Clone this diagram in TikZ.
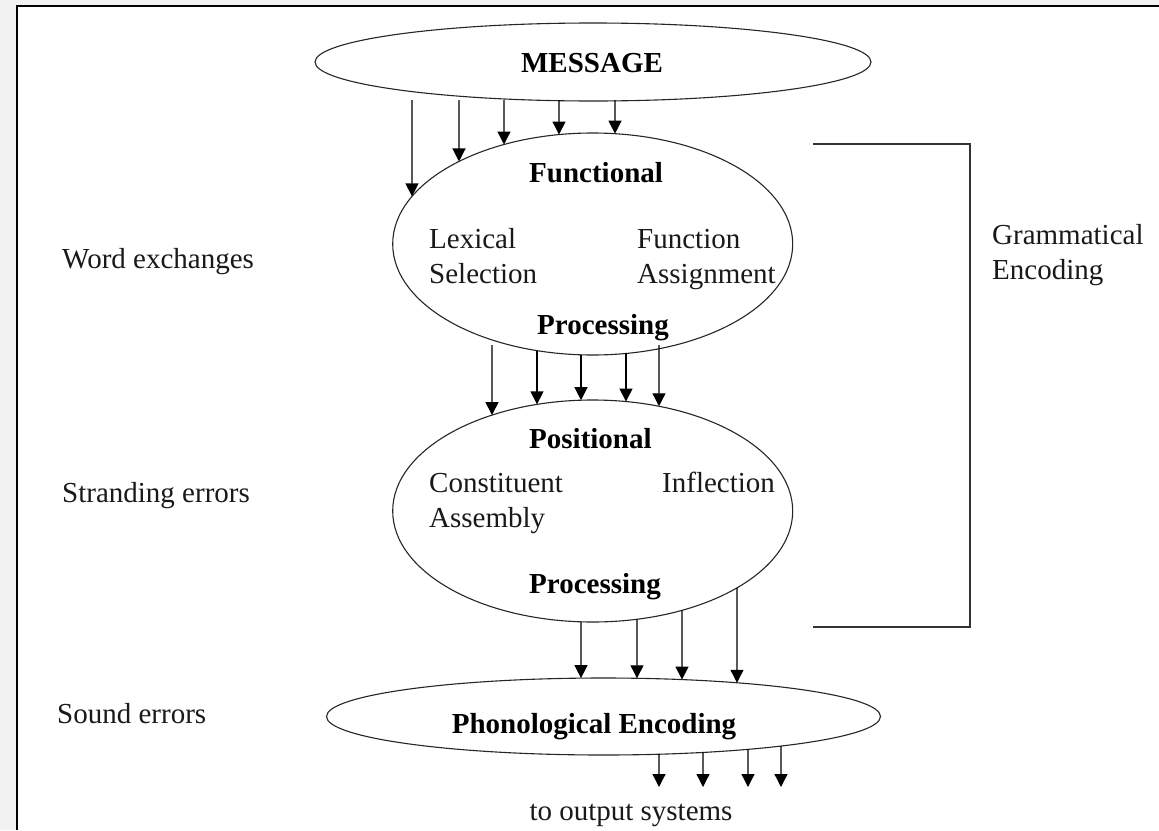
\documentclass[tikz,border=0pt]{standalone}
\usepackage{fontspec}
\setmainfont{Liberation Serif}
\usetikzlibrary{shapes.geometric,arrows.meta,intersections}
\newcommand\arrbetween[3]{%
  \path[name path=vtmp] (#1,0) -- (#1,830);
  \path[name intersections={of=vtmp and #2, sort by=vtmp, by={s1,s2}}];
  \path[name intersections={of=vtmp and #3, sort by=vtmp, by={t1,t2}}];
  \draw[arr] (s2) -- (t1);
}
\newcommand\arrfix[3]{%
  \coordinate (sf) at (#1,#2);
  \path[name path=vtmp] (sf) -- (#1,830);
  \path[name intersections={of=vtmp and #3, sort by=vtmp, by={t1}}];
  \draw[arr] (sf) -- (t1);
}
\newcommand\arrout[3]{%
  \path[name path=vtmp] (#1,0) -- (#1,830);
  \path[name intersections={of=vtmp and #2, sort by=vtmp, by={s1,s2}}];
  \coordinate (te) at (#1,#3);
  \draw[arr] (s2) -- (te);
}
\begin{document}
\begin{tikzpicture}[x=1pt,y=-1pt,
  ell/.style={draw=black!85, line width=1.1pt, ellipse, inner sep=0pt},
  arr/.style={line width=1.3pt, -{Triangle[length=13pt,width=13pt]}},
  lbl/.style={font=\fontsize{29}{35}\selectfont, inner sep=0pt, anchor=base west, text=black!90},
  lblb/.style={font=\fontsize{29}{35}\selectfont\bfseries, inner sep=0pt, anchor=base west},
  lblc/.style={font=\fontsize{29}{35}\selectfont\bfseries, inner sep=0pt, anchor=base},
  frame/.style={line width=2pt},
  brace/.style={line width=1.3pt, draw=black!80},
]
\fill[black!5] (0,0) rectangle (1159,830);
\fill[white] (17,6) rectangle (1159,830);
\useasboundingbox (0,0) rectangle (1159,830);
\draw[frame] (17,830) -- (17,6) -- (1159,6);

% ellipses
\node[ell, minimum width=556pt, minimum height=78pt, name path=msg] (msg) at (593,62) {};
\node[ell, minimum width=400pt, minimum height=222pt, name path=fun] (fun) at (592.7,244) {};
\node[ell, minimum width=400pt, minimum height=222pt, name path=pos] (pos) at (592.7,511) {};
\node[ell, minimum width=554pt, minimum height=77pt, name path=pho] (pho) at (603.5,716.5) {};

% texts inside
\node[lblc] (tmsg) at (592,72) {MESSAGE};
\node[lblb] (tfun) at (529,182) {Functional};
\node[lbl] (tlex) at (429,248) {Lexical};
\node[lbl] (tsel) at (429,283) {Selection};
\node[lbl] (tfn) at (637,248) {Function};
\node[lbl] (tasg) at (637,283) {Assignment};
\node[lblb] (tproc1) at (537,334) {Processing};
\node[lblb] (tpos) at (529,448) {Positional};
\node[lbl] (tcon) at (429,492) {Constituent};
\node[lbl] (tass) at (429,527) {Assembly};
\node[lbl] (tinf) at (662,492) {Inflection};
\node[lblb] (tproc2) at (529,593) {Processing};
\node[lblc] (tpho) at (594,733) {Phonological Encoding};
\node[lbl, anchor=base] (tout) at (631,820) {to output systems};

% side labels
\node[lbl] (wex) at (62,268) {Word exchanges};
\node[lbl] (str) at (62,502) {Stranding errors};
\node[lbl] (snd) at (57,723) {Sound errors};
\node[lbl] (gr1) at (992,244) {Grammatical};
\node[lbl] (gr2) at (992,279) {Encoding};

% bracket
\draw[brace] (813,144) -- (970,144) -- (970,627) -- (813,627);

% arrows: message -> functional
\arrfix{412}{100}{fun}
\arrfix{459}{100}{fun}
\arrfix{504}{100}{fun}
\arrfix{559}{100}{fun}
\arrfix{615}{100}{fun}

% functional -> positional
\arrfix{492}{345}{pos}
\arrbetween{537}{fun}{pos}
\arrbetween{581}{fun}{pos}
\arrbetween{626}{fun}{pos}
\arrfix{659}{345}{pos}

% positional -> phonological
\arrbetween{581}{pos}{pho}
\arrbetween{637}{pos}{pho}
\arrbetween{682}{pos}{pho}
\arrbetween{737}{pos}{pho}

% phonological -> output
\arrout{659}{pho}{787}
\arrout{703}{pho}{787}
\arrout{748}{pho}{787}
\arrout{781}{pho}{787}
\end{tikzpicture}
\end{document}
